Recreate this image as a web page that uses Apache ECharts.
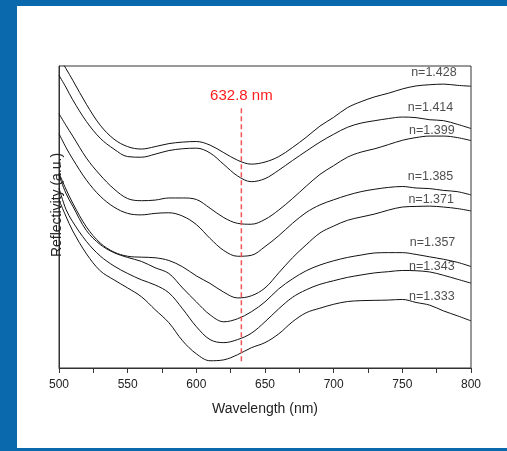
<!DOCTYPE html>
<html>
<head>
<meta charset="utf-8">
<script src="https://cdn.jsdelivr.net/npm/echarts@6/dist/echarts.min.js"></script>
<style>
  html, body { margin: 0; padding: 0; }
  body { width: 507px; height: 451px; background: #0a68ad; position: relative; overflow: hidden; }
  #panel { position: absolute; left: 17px; top: 6px; width: 490px; height: 442px; background: #ffffff; }
  #chart { position: absolute; left: 0; top: 0; width: 507px; height: 451px; }
</style>
</head>
<body>
<div id="panel"></div>
<div id="chart"></div>
<script>
// Wavelength samples (nm)
const wavelength = [500,505,510,520,530,540,550,560,570,580,590,600,610,620,630,640,650,660,670,680,690,700,710,720,730,740,750,760,770,780,790,800];
// Reflectivity (a.u.) for each refractive index
const r1428 = [102.9,99.2,95.3,87.3,80.4,75.8,73.3,72.5,73.3,74.3,74.8,75.0,73.8,71.3,68.8,67.5,68.2,70.0,73.0,76.4,80.1,83.0,86.2,88.2,89.8,91.0,92.4,93.4,93.8,94.0,93.6,93.3];
const r1414 = [96.9,93.0,88.8,81.6,76.1,72.5,70.0,69.8,70.8,72.0,72.6,72.8,71.2,67.4,63.6,61.7,62.7,65.5,68.7,71.8,74.8,77.4,79.7,81.1,81.9,82.6,83.1,82.9,82.2,81.9,80.7,79.3];
const r1399 = [84.2,80.4,76.8,69.5,63.9,59.3,56.1,55.4,55.6,56.3,56.3,55.8,52.9,49.8,47.9,47.6,49.2,52.3,56.1,60.2,64.1,67.0,69.8,71.5,72.6,74.0,75.4,76.3,76.8,76.8,76.3,75.3];
const r1385 = [77.6,73.1,69.2,62.2,56.9,53.3,51.2,50.7,51.2,51.4,50.3,47.5,42.9,38.9,37.0,37.3,40.2,43.8,47.9,51.5,54.0,55.7,57.2,58.4,59.2,59.8,60.1,59.6,59.4,58.8,58.4,57.3];
const r1371 = [64.5,59.3,54.6,46.7,41.4,38.4,37.0,36.7,36.5,35.6,33.5,30.5,28.0,25.1,23.2,23.9,26.5,31.5,36.5,40.8,44.7,47.0,48.9,50.0,51.0,52.3,53.3,53.5,53.6,53.3,52.8,52.0];
const r1357 = [63.9,57.9,53.6,45.5,40.9,38.2,36.6,35.3,33.2,31.3,26.5,21.9,17.6,15.3,16.3,18.6,21.9,26.2,29.5,32.2,34.1,35.5,36.6,37.4,38.1,38.2,38.2,37.6,36.8,36.0,35.0,33.6];
const r1343 = [59.6,52.6,48.4,41.9,37.1,33.8,31.3,29.2,27.5,24.9,19.6,13.7,9.4,8.4,9.4,11.5,15.3,19.6,23.4,25.9,27.7,28.9,30.0,30.8,31.5,31.9,32.3,32.2,31.8,30.7,29.4,28.1];
const r1333 = [55.6,50.3,45.4,37.8,32.2,29.2,26.5,23.6,19.3,15.0,9.0,4.7,2.4,2.7,4.4,6.7,8.4,11.3,15.3,18.3,19.8,21.1,22.0,22.3,22.4,22.5,22.7,21.7,20.8,18.9,17.3,15.6];

const curveNames = ['n=1.428','n=1.414','n=1.399','n=1.385','n=1.371','n=1.357','n=1.343','n=1.333'];
const curves = [r1428, r1414, r1399, r1385, r1371, r1357, r1343, r1333];
// label anchors (wavelength, reflectivity)
const labelNm = [773,770.5,771.5,770.5,771,772,771.5,771.5];
const labelLevel = [97.7,86.4,78.5,63.3,55.9,41.5,33.6,23.7];

// He-Ne laser marker
const laserNm = 632.8;
const laserRange = [86.0, 2.1];
const laserText = '632.8 nm';

const FONT = '"Liberation Sans", Arial, Helvetica, sans-serif';

const series = curves.map((vals, i) => ({
  name: curveNames[i],
  type: 'line',
  data: wavelength.map((w, j) => [w, vals[j]]),
  showSymbol: false,
  symbol: 'none',
  smooth: 0.35,
  lineStyle: { color: '#111', width: 1 },
  silent: true,
  z: 2
}));

series.push({
  type: 'scatter',
  data: curveNames.map((n, i) => [labelNm[i], labelLevel[i], n]),
  symbolSize: 1,
  itemStyle: { color: 'rgba(0,0,0,0)' },
  label: {
    show: true,
    position: 'inside',
    formatter: p => p.data[2],
    color: '#222',
    fontSize: 12.5,
    fontFamily: FONT
  },
  silent: true,
  z: 4
});

series.push({
  type: 'line',
  data: [
    { value: [laserNm, laserRange[0]], label: { show: true, position: 'top', distance: 5, formatter: laserText, color: '#ff1a1a', fontSize: 15, fontFamily: FONT } },
    { value: [laserNm, laserRange[1]] }
  ],
  symbol: 'circle',
  symbolSize: 0,
  showSymbol: true,
  lineStyle: { color: '#f25555', width: 1.5, type: [5, 3] },
  itemStyle: { color: 'rgba(0,0,0,0)' },
  silent: true,
  z: 5
});

const chart = echarts.init(document.getElementById('chart'), null, { renderer: 'canvas' });
chart.setOption({
  backgroundColor: 'transparent',
  animation: false,
  textStyle: { fontFamily: FONT },
  grid: {
    left: 59, top: 66, width: 412, height: 302,
    show: true, borderColor: '#333', borderWidth: 1, backgroundColor: 'transparent'
  },
  xAxis: {
    type: 'value', min: 500, max: 800, interval: 25,
    axisLine: { show: true, lineStyle: { color: '#333', width: 1 } },
    axisTick: { show: true, inside: false, length: 5, lineStyle: { color: '#333' } },
    axisLabel: {
      formatter: v => (v % 50 === 0 ? String(v) : ''),
      fontSize: 12, color: '#222', margin: 11, fontFamily: FONT
    },
    splitLine: { show: false },
    name: 'Wavelength (nm)', nameLocation: 'middle', nameGap: 34,
    nameTextStyle: { fontSize: 14, color: '#222', fontFamily: FONT }
  },
  yAxis: {
    type: 'value', min: 0, max: 100,
    axisLine: { show: true, lineStyle: { color: '#333', width: 1 } },
    axisTick: { show: false },
    axisLabel: { show: false },
    splitLine: { show: false }
  },
  graphic: [{
    type: 'text',
    x: 57, y: 205,
    rotation: Math.PI / 2,
    silent: true,
    z: 10,
    style: {
      text: 'Reflectivity (a.u.)',
      fontSize: 14,
      fontFamily: FONT,
      fill: '#222',
      textAlign: 'center',
      textVerticalAlign: 'middle'
    }
  }],
  series: series
});
</script>
</body>
</html>
